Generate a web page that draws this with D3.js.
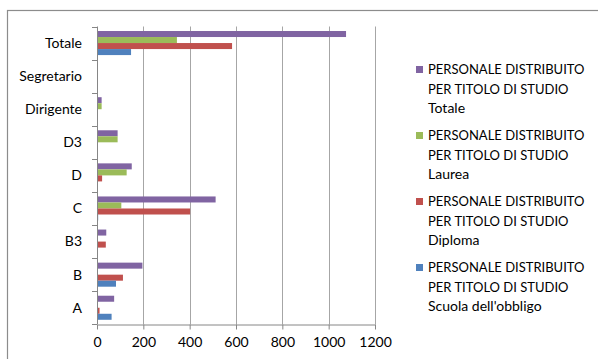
<!DOCTYPE html>
<html>
<head>
<meta charset="utf-8">
<script src="https://cdn.jsdelivr.net/npm/d3@7"></script>
<style>
  html, body { margin: 0; padding: 0; background: #fff; }
  svg { display: block; font-family: Lato, "Open Sans", sans-serif; }
</style>
</head>
<body>
<svg id="chart" width="598" height="359"></svg>
<script>
// Categories, listed top to bottom
const categories = ["Totale", "Segretario", "Dirigente", "D3", "D", "C", "B3", "B", "A"];

// Series names (bar order within each category, top to bottom)
const seriesNames = ["Totale", "Laurea", "Diploma", "Scuola dell'obbligo"];
const seriesPrefix = ["PERSONALE DISTRIBUITO", "PER TITOLO DI STUDIO"];
const seriesColors = ["#8064A2", "#9BBB59", "#C0504D", "#4F81BD"];

// Values per category, same order as categories
const totale   = [1075, 3, 20, 89, 150, 512, 40, 196, 74];
const laurea   = [345, 3, 20, 89, 128, 105, 2, 2, 0];
const diploma  = [583, 0, 0, 0, 22, 402, 38, 112, 11];
const scuola   = [147, 0, 0, 0, 0, 5, 0, 82, 63];
const seriesValues = [totale, laurea, diploma, scuola];

const xTicks = [0, 200, 400, 600, 800, 1000, 1200];

const svg = d3.select("#chart");

// Chart frame (top and left edges visible in the window)
svg.append("rect")
  .attr("x", 7.5).attr("y", 10.5)
  .attr("width", 620).attr("height", 400)
  .attr("fill", "#fff")
  .attr("stroke", "#8c8c8c")
  .attr("stroke-width", 1.2);

const plot = { left: 97, right: 375, top: 26.5, bottom: 324.3 };

const x = d3.scaleLinear().domain([0, 1200]).range([plot.left, plot.right]);
const y = d3.scaleBand().domain(categories).range([plot.top, plot.bottom]).paddingInner(0).paddingOuter(0);
const ySub = d3.scaleBand().domain(seriesNames).range([0, y.bandwidth()])
  .paddingInner(0).paddingOuter(0.75);

// Vertical gridlines
svg.append("g").selectAll("line")
  .data(xTicks.filter(t => t > 0))
  .join("line")
  .attr("x1", d => Math.round(x(d)) + 0.5).attr("x2", d => Math.round(x(d)) + 0.5)
  .attr("y1", plot.top).attr("y2", plot.bottom)
  .attr("stroke", "#a6a6a6").attr("stroke-width", 1);

// Bars
const rows = [];
categories.forEach((c, i) => {
  seriesNames.forEach((s, j) => rows.push({ cat: c, series: s, value: seriesValues[j][i], color: seriesColors[j] }));
});

svg.append("g").selectAll("rect")
  .data(rows)
  .join("rect")
  .attr("x", x(0))
  .attr("y", d => y(d.cat) + ySub(d.series))
  .attr("width", d => Math.max(0, x(d.value) - x(0)))
  .attr("height", ySub.bandwidth())
  .attr("fill", d => d.color);

// Bottom axis
const xAxis = svg.append("g")
  .attr("transform", `translate(0,${Math.round(plot.bottom) + 0.5})`)
  .call(d3.axisBottom(x).tickValues(xTicks).tickFormat(d3.format("d"))
    .tickSize(5).tickSizeOuter(0).tickPadding(8));
xAxis.select(".domain").attr("stroke", "#868686");
xAxis.selectAll(".tick line").attr("stroke", "#868686");
xAxis.selectAll(".tick text")
  .attr("fill", "#000").attr("font-size", 14).attr("font-family", "Lato, sans-serif");

// Left axis with ticks at category boundaries
const yAxisG = svg.append("g");
yAxisG.append("line")
  .attr("x1", Math.round(plot.left) + 0.5).attr("x2", Math.round(plot.left) + 0.5)
  .attr("y1", plot.top).attr("y2", plot.bottom)
  .attr("stroke", "#868686");
const boundaries = categories.map(c => y(c)).concat([plot.bottom]);
yAxisG.selectAll("line.tick")
  .data(boundaries)
  .join("line")
  .attr("class", "tick")
  .attr("x1", plot.left - 5).attr("x2", plot.left)
  .attr("y1", d => Math.round(d) + 0.5).attr("y2", d => Math.round(d) + 0.5)
  .attr("stroke", "#868686");
yAxisG.selectAll("text")
  .data(categories)
  .join("text")
  .attr("x", 82)
  .attr("y", d => y(d) + y.bandwidth() / 2)
  .attr("dy", "0.35em")
  .attr("text-anchor", "end")
  .attr("font-size", 14)
  .attr("fill", "#000")
  .text(d => d);

// Legend
const legend = svg.append("g").attr("transform", "translate(416,0)");
seriesNames.forEach((s, j) => {
  const cy = 69.5 + j * 66;
  const g = legend.append("g");
  g.append("rect")
    .attr("x", 0).attr("y", cy - 3.5)
    .attr("width", 7).attr("height", 7)
    .attr("fill", seriesColors[j]);
  const lines = seriesPrefix.concat([s]);
  g.selectAll("text")
    .data(lines)
    .join("text")
    .attr("x", 12)
    .attr("y", (d, k) => cy + k * 19.5)
    .attr("dy", "0.35em")
    .attr("font-size", (d, k) => k < 2 ? 13 : 14)
    .attr("fill", "#000")
    .text(d => d);
});
</script>
</body>
</html>
